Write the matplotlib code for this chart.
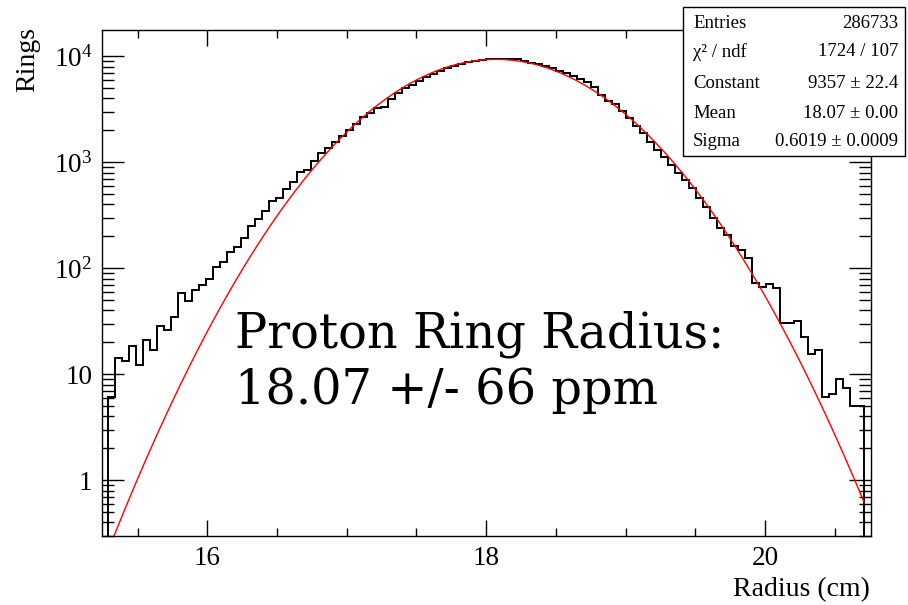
import numpy as np
import matplotlib
matplotlib.use("Agg")
import matplotlib.pyplot as plt
from matplotlib.patches import Rectangle
from matplotlib.ticker import MultipleLocator, LogLocator, NullFormatter, FuncFormatter

# Ring radius histogram, 108 bins of ~0.05 cm starting at 15.29 cm
bin_start = 15.29
bin_width = 0.0502
counts = [
    6.1, 14.2, 13.2, 18.5, 12.2, 21, 17, 28.6, 26.2, 34.5,
    59, 49, 62, 69, 80, 103, 114, 143, 160, 194,
    251, 290, 347, 432, 463, 560, 647, 805, 846, 1035,
    1216, 1355, 1565, 1782, 2017, 2281, 2656, 2897, 3231, 3348,
    3930, 4477, 4990, 5358, 5845, 6333, 6807, 7200, 7710, 8130,
    8460, 8770, 9000, 9150, 9440, 9440, 9440, 9440, 9440, 9030,
    8700, 8500, 8150, 7810, 7310, 6910, 6560, 6110, 5690, 5130,
    4315, 3810, 3545, 3048, 2600, 2200, 1877, 1565, 1306, 1130,
    944, 798, 681, 569, 465, 377, 300, 238, 204, 164,
    149, 124, 72, 66, 71, 64.7, 30.3, 30.7, 31.8, 22.3,
    15.5, 17, 6.15, 6.5, 9.0, 7.5, 5.0, 5.0,
]

# Gaussian fit parameters (from the stats box)
fit_const = 9357
fit_mean = 18.07
fit_sigma = 0.6019

stats_names = ["Entries", "\u03c7\u00b2 / ndf", "Constant", "Mean", "Sigma"]
stats_values = ["286733", "1724 / 107", "9357 \u00b1 22.4", "18.07 \u00b1 0.00",
                "0.6019 \u00b1 0.0009"]

plt.rcParams["mathtext.fontset"] = "custom"
plt.rcParams["mathtext.rm"] = "Liberation Serif"
serif = "Liberation Serif"

W, H = 908, 605
fig = plt.figure(figsize=(W / 100, H / 100), dpi=100)
fig.patch.set_facecolor("white")

ax = fig.add_axes([102 / W, 1 - 536 / H, (870.7 - 102) / W, (536 - 30) / H])

edges = bin_start + bin_width * np.arange(len(counts) + 1)
ax.stairs(counts, edges, baseline=0.01, color="black", linewidth=1.4)

xs = np.linspace(edges[0], edges[-1], 500)
ax.plot(xs, fit_const * np.exp(-0.5 * ((xs - fit_mean) / fit_sigma) ** 2),
        color="red", linewidth=1.0)

ax.set_yscale("log")
ax.set_xlim(15.245, 20.758)
ax.set_ylim(0.298, 17700)

ax.xaxis.set_major_locator(MultipleLocator(2))
ax.xaxis.set_minor_locator(MultipleLocator(0.5))
ax.yaxis.set_major_locator(LogLocator(base=10, numticks=10))
ax.yaxis.set_minor_locator(LogLocator(base=10, subs=np.arange(2, 10), numticks=10))
ax.yaxis.set_minor_formatter(NullFormatter())


def ylabel_fmt(v, pos):
    e = int(round(np.log10(v)))
    if e == 0:
        return "1"
    if e == 1:
        return "10"
    return r"$\mathregular{10^{%d}}$" % e


ax.yaxis.set_major_formatter(FuncFormatter(ylabel_fmt))

ax.tick_params(which="both", direction="in", top=True, right=True, width=1.0)
ax.tick_params(axis="y", which="major", length=16, pad=7)
ax.tick_params(axis="y", which="minor", length=8.6)
ax.tick_params(axis="x", which="major", length=11.5, pad=7)
ax.tick_params(axis="x", which="minor", length=5.8)
for lab in ax.get_xticklabels() + ax.get_yticklabels():
    lab.set_fontfamily(serif)
    lab.set_fontsize(19.5)
for sp in ax.spines.values():
    sp.set_linewidth(1.0)

# axis titles, ROOT style
fig.text(28 / W, 1 - 27 / H, "Rings", rotation=90, ha="center", va="top",
         fontfamily=serif, fontsize=20)
fig.text(870 / W, 1 - 590 / H, "Radius (cm)", ha="right", va="center",
         fontfamily=serif, fontsize=20)

# big annotation
fig.text(235 / W, 1 - 348 / H, "Proton Ring Radius:", ha="left", va="baseline",
         fontfamily="DejaVu Serif", fontsize=34.5)
fig.text(235 / W, 1 - 404 / H, "18.07 +/- 66 ppm", ha="left", va="baseline",
         fontfamily="DejaVu Serif", fontsize=34.5)

# stats box
box = Rectangle((683 / W, 1 - 156 / H), 222 / W, 149 / H, transform=fig.transFigure,
                facecolor="white", edgecolor="black", linewidth=1.0, zorder=5)
fig.add_artist(box)
row_y = [23, 52, 83, 114, 142]
for name, val, y in zip(stats_names, stats_values, row_y):
    fig.text(693 / W, 1 - y / H, name, ha="left", va="center",
             fontfamily=serif, fontsize=13.5, zorder=6)
    fig.text(898 / W, 1 - y / H, val, ha="right", va="center",
             fontfamily=serif, fontsize=13.5, zorder=6)

fig.savefig("out.png", dpi=100)
